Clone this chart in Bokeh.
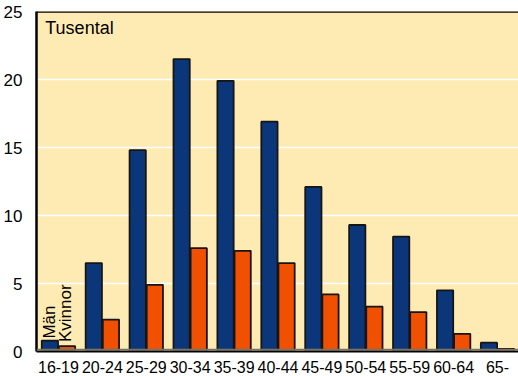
from bokeh.plotting import figure
from bokeh.models import ColumnDataSource, FactorRange, Span, Label, LabelSet
from bokeh.transform import dodge
from bokeh.embed import file_html
from bokeh.resources import INLINE
from bokeh.core.properties import value
import math

categories = ["16-19", "20-24", "25-29", "30-34", "35-39", "40-44", "45-49", "50-54", "55-59", "60-64", "65-"]
man = [0.8, 6.5, 14.8, 21.5, 19.9, 16.9, 12.1, 9.3, 8.45, 4.5, 0.65]
kvinnor = [0.4, 2.35, 4.9, 7.6, 7.4, 6.5, 4.2, 3.3, 2.9, 1.3, 0.2]
y_ticks = [0, 5, 10, 15, 20, 25]

src = ColumnDataSource(dict(cat=categories, man=man, kvinnor=kvinnor))

p = figure(x_range=FactorRange(*categories, range_padding=0), y_range=(0, 25),
           frame_width=483, frame_height=340,
           min_border_left=27, min_border_right=0, min_border_top=11, min_border_bottom=22,
           output_backend="svg", toolbar_location=None)

p.background_fill_color = "#FEEBB3"
p.border_fill_color = "white"
p.outline_line_color = None

p.vbar(x=dodge("cat", -0.195, range=p.x_range), top="man", width=0.37, source=src,
       fill_color="#0B377A", line_color="#151515", line_width=1.8)
p.vbar(x=dodge("cat", 0.195, range=p.x_range), top="kvinnor", width=0.37, source=src,
       fill_color="#F05000", line_color="#151515", line_width=1.8)

# series labels above the first group
man_lab = ColumnDataSource(dict(cat=[categories[0]], y=[man[0] + 0.15], txt=["Män"]))
kv_lab = ColumnDataSource(dict(cat=[categories[0]], y=[kvinnor[0] + 0.3], txt=["Kvinnor"]))
for s, off in ((man_lab, -0.215), (kv_lab, 0.165)):
    p.add_layout(LabelSet(x=dodge("cat", off, range=p.x_range), y="y", text="txt", source=s,
                          angle=math.pi / 2, text_align="left", text_baseline="middle",
                          text_font=value("Liberation Sans"), text_font_size="17px",
                          text_color="black"))

p.add_layout(Label(x=0.2, y=24.5, text="Tusental", text_baseline="top", text_align="left",
                   text_font="Liberation Sans", text_font_size="18px", text_color="black"))

# top frame line
p.add_layout(Span(location=25, dimension="width", line_color="black", line_width=2.5))
# shadow line at base
p.add_layout(Span(location=0.12, dimension="width", line_color="#7a7464", line_width=2))

p.xgrid.grid_line_color = None
p.ygrid.grid_line_color = "white"
p.ygrid.grid_line_width = 1.5
p.ygrid.ticker = [5, 10, 15, 20]

p.yaxis.ticker = y_ticks
p.yaxis.axis_line_color = "black"
p.yaxis.axis_line_width = 2.5
p.yaxis.major_tick_line_color = None
p.yaxis.minor_tick_line_color = None
p.yaxis.major_label_text_font = "Liberation Sans"
p.yaxis.major_label_text_font_size = "17px"
p.yaxis.major_label_text_color = "black"
p.yaxis.major_label_standoff = 8

p.xaxis.axis_line_color = "black"
p.xaxis.axis_line_width = 2
p.xaxis.major_tick_line_color = None
p.xaxis.minor_tick_line_color = None
p.xaxis.major_label_text_font = "Liberation Sans"
p.xaxis.major_label_text_font_size = "16px"
p.xaxis.major_label_text_color = "black"
p.xaxis.major_label_standoff = 3

open("out.html", "w").write(file_html(p, INLINE))
